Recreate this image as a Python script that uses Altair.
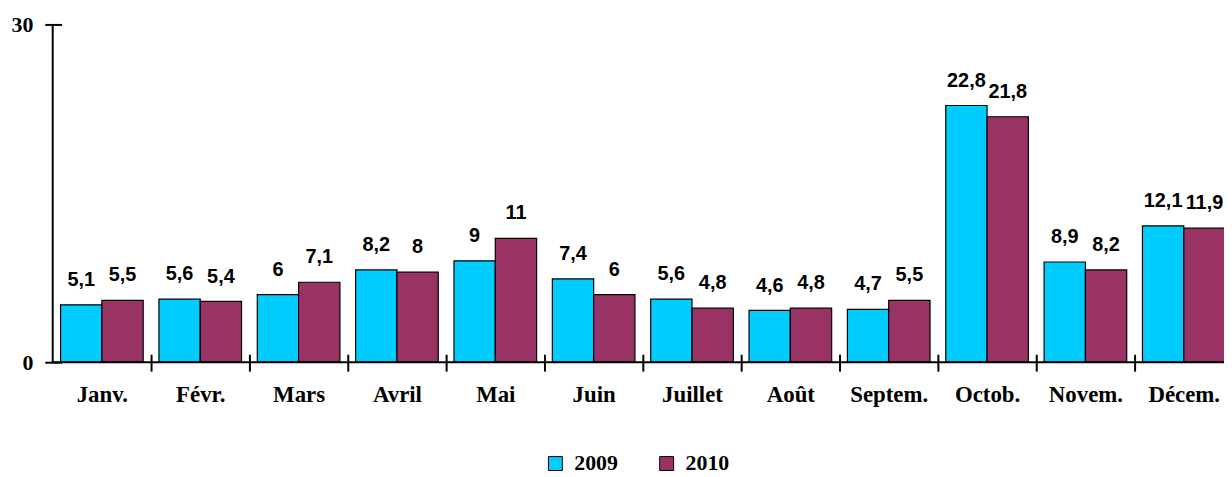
import altair as alt
import pandas as pd

months = ["Janv.", "Févr.", "Mars", "Avril", "Mai", "Juin", "Juillet", "Août",
          "Septem.", "Octob.", "Novem.", "Décem."]
years = ["2009", "2010"]
v2009 = [5.1, 5.6, 6, 8.2, 9, 7.4, 5.6, 4.6, 4.7, 22.8, 8.9, 12.1]
v2010 = [5.5, 5.4, 7.1, 8, 11, 6, 4.8, 4.8, 5.5, 21.8, 8.2, 11.9]
colors = ["#00CCFF", "#993366"]
y_ticks = [0, 30]


def fmt(v):
    return f"{v:g}".replace(".", ",")


rows = []
for m, a, b in zip(months, v2009, v2010):
    rows.append({"mois": m, "annee": years[0], "valeur": a, "label": fmt(a)})
    rows.append({"mois": m, "annee": years[1], "valeur": b, "label": fmt(b)})
df = pd.DataFrame(rows)

SERIF = "Liberation Serif"
SANS = "Liberation Sans"

x_enc = alt.X(
    "mois:N", sort=months,
    scale=alt.Scale(paddingInner=0.16, paddingOuter=0.08),
    axis=alt.Axis(title=None, labelAngle=0, domain=False, offset=-8, tickSize=17,
                  tickColor="black", tickWidth=2, tickOffset=49.5, labelOffset=-49.5,
                  labelFont=SERIF, labelFontWeight="bold", labelFontSize=23,
                  labelColor="black", labelPadding=13),
)
y_enc = alt.Y(
    "valeur:Q",
    scale=alt.Scale(domain=[0, 30], nice=False),
    axis=alt.Axis(values=y_ticks, title=None, domain=False, offset=-9, tickSize=17,
                  tickColor="black", tickWidth=2, grid=False, labelPadding=12,
                  labelFont=SERIF, labelFontWeight="bold", labelFontSize=22,
                  labelColor="black"),
)
xoff = alt.XOffset("annee:N", sort=years, scale=alt.Scale(paddingInner=0, paddingOuter=0))

bars = alt.Chart(df).mark_bar(stroke="black", strokeWidth=1.2).encode(
    x=x_enc, y=y_enc, xOffset=xoff,
    color=alt.Color("annee:N", scale=alt.Scale(domain=years, range=colors),
                    legend=alt.Legend(title=None, orient="none", legendX=495, legendY=431,
                                      direction="horizontal", symbolType="square",
                                      symbolSize=196, symbolStrokeColor="black",
                                      symbolStrokeWidth=1, symbolOpacity=1,
                                      labelFont=SERIF, labelFontSize=22,
                                      labelFontWeight="bold", labelColor="black",
                                      columnPadding=38, labelOffset=8, padding=0)),
)

texts = alt.Chart(df).mark_text(dy=-19, baseline="alphabetic", font=SANS,
                                fontWeight="bold", fontSize=20, color="black").encode(
    x=x_enc, y=y_enc, xOffset=xoff, text="label:N",
)

base_df = pd.DataFrame({"v": [0]})
xline = alt.Chart(base_df).mark_rule(color="black", strokeWidth=2).encode(y=alt.datum(0))
yline = alt.Chart(base_df).mark_rule(color="black", strokeWidth=2).encode(
    x=alt.value(0), y=alt.datum(0), y2=alt.datum(30))

chart = alt.layer(bars, texts, xline, yline).properties(
    width=1188, height=340,
    padding={"left": 45, "top": 15, "right": -9, "bottom": 112},
    autosize=alt.AutoSizeParams(type="none"),
    background="white",
).configure_view(stroke=None)

chart.save("out.html", embed_options={"renderer": "svg", "actions": False})
